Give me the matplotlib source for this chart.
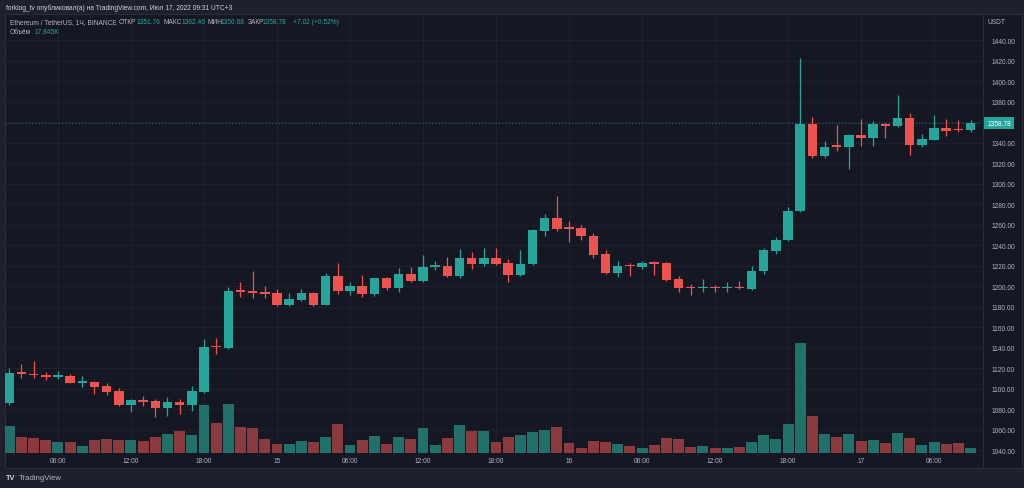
import numpy as np
import pandas as pd
import matplotlib
matplotlib.use("Agg")
import matplotlib.pyplot as plt
from matplotlib import font_manager
from matplotlib.patches import Rectangle

# ---------------------------------------------------------------- data ----
times = pd.date_range("2022-07-14 02:00", periods=80, freq="h")

opens = [1086.0, 1115.0, 1114.2, 1113.2, 1111.5, 1112.5, 1105.8, 1106.0, 1102.4, 1097.6,
         1084.2, 1089.0, 1087.5, 1081.3, 1086.8, 1084.2, 1096.9, 1141.0, 1139.5, 1195.3,
         1194.8, 1194.0, 1193.2, 1181.5, 1186.6, 1193.2, 1181.5, 1209.5, 1195.1, 1200.0,
         1192.2, 1207.5, 1197.8, 1211.7, 1204.9, 1218.8, 1219.8, 1210.0, 1227.3, 1221.2,
         1227.3, 1222.1, 1211.0, 1221.2, 1254.0, 1266.0, 1256.3, 1256.3, 1248.8, 1230.9,
         1212.4, 1219.8, 1218.8, 1222.4, 1222.1, 1206.8, 1198.2, 1197.6, 1198.1, 1197.7,
         1198.1, 1197.1, 1214.6, 1234.5, 1244.9, 1273.5, 1358.0, 1327.1, 1336.5, 1335.9,
         1347.3, 1344.7, 1358.0, 1355.8, 1363.6, 1337.9, 1342.7, 1353.8, 1352.5, 1351.76]
highs = [1119.7, 1123.6, 1127.0, 1116.4, 1117.3, 1114.0, 1112.5, 1107.6, 1105.5, 1100.5,
         1089.8, 1092.4, 1090.0, 1091.4, 1089.5, 1102.4, 1148.3, 1149.3, 1199.3, 1204.2,
         1214.3, 1200.0, 1197.0, 1192.9, 1197.0, 1194.0, 1212.4, 1222.4, 1203.6, 1210.7,
         1208.1, 1208.5, 1217.8, 1218.5, 1230.2, 1224.7, 1228.0, 1236.1, 1232.9, 1237.0,
         1237.0, 1226.0, 1235.4, 1255.5, 1270.2, 1287.5, 1263.1, 1260.0, 1251.4, 1235.0,
         1224.7, 1222.5, 1224.7, 1224.7, 1223.0, 1209.5, 1202.0, 1206.8, 1201.0, 1204.0,
         1205.0, 1219.8, 1237.0, 1248.1, 1276.8, 1422.1, 1364.6, 1341.2, 1357.4, 1348.0,
         1362.9, 1361.0, 1359.0, 1386.6, 1368.5, 1348.3, 1367.1, 1363.0, 1362.0, 1362.46]
lows = [1084.0, 1110.0, 1110.5, 1108.6, 1109.6, 1105.0, 1101.8, 1094.6, 1094.0, 1083.3,
        1077.4, 1082.9, 1071.9, 1073.5, 1075.1, 1078.3, 1095.5, 1133.7, 1138.5, 1189.0,
        1188.0, 1188.0, 1180.8, 1180.8, 1185.0, 1180.8, 1181.0, 1192.2, 1191.2, 1189.0,
        1190.0, 1196.5, 1193.9, 1203.9, 1204.0, 1215.9, 1209.0, 1207.5, 1216.6, 1220.0,
        1220.5, 1203.6, 1210.0, 1220.5, 1248.5, 1254.0, 1242.6, 1245.0, 1227.0, 1211.5,
        1208.5, 1210.0, 1217.0, 1211.0, 1204.9, 1193.9, 1191.2, 1194.0, 1194.0, 1194.0,
        1197.5, 1196.5, 1211.7, 1231.2, 1244.0, 1272.0, 1324.6, 1324.6, 1332.0, 1314.1,
        1336.9, 1337.0, 1344.1, 1355.0, 1327.8, 1335.9, 1342.0, 1346.0, 1350.0, 1350.68]
closes = [1114.8, 1114.2, 1112.8, 1111.5, 1113.0, 1105.7, 1106.4, 1101.8, 1096.9, 1084.2,
          1089.0, 1087.0, 1081.3, 1087.0, 1084.2, 1097.3, 1140.8, 1140.3, 1195.1, 1194.6,
          1193.5, 1192.6, 1181.5, 1187.3, 1193.2, 1181.5, 1209.5, 1195.1, 1200.0, 1192.2,
          1207.5, 1197.8, 1211.7, 1204.9, 1218.8, 1219.5, 1210.0, 1227.3, 1221.2, 1227.3,
          1221.5, 1211.0, 1221.5, 1254.6, 1266.0, 1255.6, 1255.8, 1248.5, 1230.2, 1212.4,
          1219.8, 1219.2, 1222.1, 1221.8, 1205.9, 1197.8, 1197.6, 1198.1, 1197.7, 1198.1,
          1197.6, 1214.9, 1235.1, 1244.9, 1273.5, 1358.0, 1327.1, 1336.0, 1335.5, 1347.3,
          1344.7, 1358.0, 1355.8, 1363.6, 1337.9, 1343.4, 1353.8, 1351.2, 1351.76, 1358.78]
# volume, thousands of ETH
volumes = [90, 54, 50.5, 44, 38, 38, 24.6, 45, 46, 44,
           43, 40, 55, 64, 74, 61, 162, 101, 166, 88,
           84, 47, 29, 29, 40, 36, 55, 97, 27, 44,
           57, 30, 54, 47, 83, 28, 52, 94, 74, 73,
           38, 55, 61, 70, 79, 89, 33, 17, 40, 36,
           30, 25, 16, 26, 52, 46, 21, 24, 16, 18,
           20, 38, 61, 48, 98, 371, 126, 64, 54, 63,
           39, 43, 35, 66, 51, 27, 37, 30, 35, 17.845]

price_ticks = list(range(1040, 1441, 20))

# ---------------------------------------------------------------- style ---
W, H = 1024, 489
OUTER = "#1e212b"
PANE = "#151823"
BORDER = "#2a2e39"
GRID = "#1e2230"
UP = "#26a69a"
DOWN = "#ef5350"
UPVOL = "#22706a"
DOWNVOL = "#8b3a3e"
TXT = "#b2b5be"
HEAD = "#d1d4dc"

names = {f.name for f in font_manager.fontManager.ttflist}
if "Liberation Sans Narrow" in names:
    FONT, FS = "Liberation Sans Narrow", 5.6
else:
    FONT, FS = "Liberation Sans", 4.8
plt.rcParams["font.family"] = [FONT, "DejaVu Sans"]


def px(x, y):
    """image pixels (top-left origin) -> figure fraction"""
    return x / W, 1 - y / H


fig = plt.figure(figsize=(W / 100, H / 100), dpi=100)
fig.patch.set_facecolor(OUTER)

# pane + axis frame
fig.add_artist(Rectangle(px(5, 469), (1022 - 5) / W, (469 - 15) / H,
                         transform=fig.transFigure, facecolor=PANE,
                         edgecolor=BORDER, lw=0.8, zorder=0))
fig.add_artist(plt.Line2D([982.5 / W] * 2, [px(0, 15)[1], px(0, 469)[1]],
                          transform=fig.transFigure, color=BORDER, lw=0.8))

x = np.arange(len(times))
o, h, l, c = map(np.asarray, (opens, highs, lows, closes))
up = c >= o

left, bottom = px(5, 455)
rect = [left, bottom, (982 - 5) / W, (455 - 15) / H]
ax = fig.add_axes(rect)
ax.set_facecolor("none")
ax.set_xlim(-0.353, 79.94)
ax.set_ylim(1036.1, 1465.4)

# grid
tick_idx = [i for i, t in enumerate(times) if t.hour % 6 == 0]
tick_lab = [str(t.day) if t.hour == 0 else t.strftime("%H:%M")
            for t in times[tick_idx]]
for i in tick_idx:
    ax.axvline(i, color=GRID, lw=0.7, zorder=0)
for p in price_ticks:
    ax.axhline(p, color=GRID, lw=0.7, zorder=0)

# candles
cols = np.where(up, UP, DOWN)
ax.vlines(x, l, h, colors=cols, lw=0.9, zorder=3)
body = np.maximum(np.abs(c - o), 1.6)
ax.bar(x, body, bottom=np.minimum(o, c), width=0.78, color=cols, lw=0, zorder=4)

# last price line + label (it covers the nearest scale label)
ax.axhline(c[-1], color=UP, lw=0.8, ls=(0, (1, 2)), alpha=0.55, zorder=2)
ax.annotate(f"{c[-1]:.2f}", xy=(1, c[-1]), xycoords=("axes fraction", "data"),
            xytext=(17, 0), textcoords="offset pixels", ha="center", va="center",
            fontsize=FS, color="white",
            bbox=dict(boxstyle="square,pad=0.4", fc=UP, ec="none"),
            annotation_clip=False)

ax.yaxis.tick_right()
ax.set_yticks(price_ticks)
ax.set_yticklabels(["" if abs(p - c[-1]) < 10 else f"{p:.2f}" for p in price_ticks])
ax.set_xticks(tick_idx)
ax.set_xticklabels(tick_lab)
ax.tick_params(axis="y", length=0, pad=7, labelsize=FS, labelcolor=TXT)
ax.tick_params(axis="x", length=0, pad=2.5, labelsize=FS, labelcolor=TXT)
for s in ax.spines.values():
    s.set_visible(False)

# volume on its own scale, bottom quarter of the pane
vax = fig.add_axes(rect, sharex=ax)
vax.patch.set_visible(False)
vmax = max(volumes)
vax.set_ylim(-vmax / 110, 4 * vmax - vmax / 110)
vax.bar(x, volumes, width=0.9, color=np.where(up, UPVOL, DOWNVOL), lw=0)
vax.axis("off")

# ---------------------------------------------------------------- text ----
fig.text(*px(987, 23), "USDT", fontsize=FS, color=TXT, va="center")
fig.text(*px(6, 8.5), "forklog_tv опубликовал(а) на TradingView.com, Июл 17, 2022 09:31 UTC+3",
         fontsize=FS, color=HEAD, va="center")

header = [
    (10, "Ethereum / TetherUS, 1Ч, BINANCE", TXT),
    (119, "ОТКР", TXT), (137, f"{opens[-1]:.2f}", UP),
    (163, "МАКС", TXT), (182, f"{highs[-1]:.2f}", UP),
    (207, "МИН", TXT), (221, f"{lows[-1]:.2f}", UP),
    (248, "ЗАКР", TXT), (263, f"{closes[-1]:.2f}", UP),
    (293, f"{closes[-1] - closes[-2]:+.2f} ({(closes[-1] - closes[-2]) / closes[-2] * 100:+.2f}%)", UP),
]
for hx, s, col in header:
    fig.text(*px(hx, 23), s, fontsize=FS, color=col, va="center")
fig.text(*px(10, 33), "Объём", fontsize=FS, color=TXT, va="center")
fig.text(*px(35, 33), f"{volumes[-1]:.3f}K", fontsize=FS, color=UP, va="center")

fig.text(*px(6, 479), "TV", fontsize=FS + 0.5, color=HEAD, va="center",
         fontweight="bold")
fig.text(*px(19, 479), "TradingView", fontsize=FS + 0.8, color=TXT, va="center")

fig.savefig("out.png", dpi=100, facecolor=OUTER)
